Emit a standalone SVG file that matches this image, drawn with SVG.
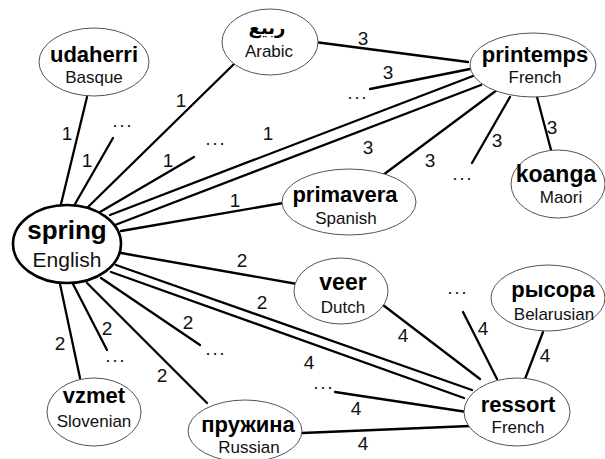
<svg xmlns="http://www.w3.org/2000/svg" width="605" height="459" viewBox="0 0 605 459">
  <style>
    .edge { stroke: #000; stroke-width: 2.3; stroke-linecap: round; fill: none; }
    .node { fill: #fff; stroke: #555; stroke-width: 1; }
    .hub { fill: #fff; stroke: #000; stroke-width: 2.6; }
    .word { font-family: "Liberation Sans", Arial, "DejaVu Sans", sans-serif; font-weight: bold; font-size: 22px; text-anchor: middle; fill: #000; }
    .lang { font-family: "Liberation Sans", Arial, sans-serif; font-size: 17px; text-anchor: middle; fill: #111; }
    .w { font-family: "Liberation Sans", Arial, sans-serif; font-size: 19px; text-anchor: middle; fill: #111; }
    .dots { font-family: "Liberation Sans", Arial, sans-serif; font-size: 18px; text-anchor: middle; fill: #111; letter-spacing: 2px; }
  </style>
  <rect width="605" height="459" fill="#fff"/>

  <g id="connectors">
    <!-- spring: weight 1 -->
    <line class="edge" x1="61" y1="204" x2="87" y2="97"/>
    <line class="edge" x1="75" y1="204" x2="113" y2="138"/>
    <line class="edge" x1="88" y1="207" x2="235" y2="63"/>
    <line class="edge" x1="100" y1="212" x2="194" y2="157"/>
    <line class="edge" x1="110" y1="215" x2="473" y2="76"/>
    <line class="edge" x1="115" y1="225" x2="481" y2="85"/>
    <line class="edge" x1="121" y1="231" x2="283" y2="203"/>
    <!-- spring: weight 2 -->
    <line class="edge" x1="121" y1="253" x2="297" y2="284"/>
    <line class="edge" x1="116" y1="265" x2="472" y2="390"/>
    <line class="edge" x1="111" y1="272" x2="464" y2="398"/>
    <line class="edge" x1="101" y1="278" x2="200" y2="345"/>
    <line class="edge" x1="87" y1="283" x2="207" y2="403"/>
    <line class="edge" x1="73" y1="284" x2="107" y2="350"/>
    <line class="edge" x1="60" y1="284" x2="80" y2="378"/>
    <!-- printemps: weight 3 -->
    <line class="edge" x1="315" y1="42" x2="468" y2="62"/>
    <line class="edge" x1="470" y1="69" x2="370" y2="89"/>
    <line class="edge" x1="497" y1="90" x2="383" y2="175"/>
    <line class="edge" x1="510" y1="97" x2="472" y2="163"/>
    <line class="edge" x1="537" y1="97" x2="551" y2="150"/>
    <!-- ressort: weight 4 -->
    <line class="edge" x1="383" y1="305" x2="480" y2="379"/>
    <line class="edge" x1="463" y1="312" x2="497" y2="379"/>
    <line class="edge" x1="543" y1="332" x2="525" y2="379"/>
    <line class="edge" x1="335" y1="392" x2="467" y2="412"/>
    <line class="edge" x1="302" y1="433" x2="470" y2="426"/>
  </g>

  <g id="weights">
    <text class="w" x="67" y="140">1</text>
    <text class="w" x="87" y="167">1</text>
    <text class="w" x="181" y="107">1</text>
    <text class="w" x="168" y="167">1</text>
    <text class="w" x="268" y="140">1</text>
    <text class="w" x="235" y="207">1</text>
    <text class="w" x="363" y="45">3</text>
    <text class="w" x="388" y="79">3</text>
    <text class="w" x="368" y="154">3</text>
    <text class="w" x="430" y="167">3</text>
    <text class="w" x="497" y="147">3</text>
    <text class="w" x="552" y="134">3</text>
    <text class="w" x="242" y="267">2</text>
    <text class="w" x="262" y="309">2</text>
    <text class="w" x="188" y="329">2</text>
    <text class="w" x="162" y="382">2</text>
    <text class="w" x="107" y="335">2</text>
    <text class="w" x="60" y="350">2</text>
    <text class="w" x="309" y="369">4</text>
    <text class="w" x="403" y="342">4</text>
    <text class="w" x="483" y="335">4</text>
    <text class="w" x="545" y="362">4</text>
    <text class="w" x="356" y="415">4</text>
    <text class="w" x="363" y="450">4</text>
    <text class="dots" x="123" y="127">...</text>
    <text class="dots" x="216" y="145">...</text>
    <text class="dots" x="358" y="99">...</text>
    <text class="dots" x="463" y="180">...</text>
    <text class="dots" x="216" y="355">...</text>
    <text class="dots" x="116" y="362">...</text>
    <text class="dots" x="458" y="294">...</text>
    <text class="dots" x="324" y="389">...</text>
  </g>

  <g id="spring">
    <ellipse class="hub" cx="67" cy="244" rx="54" ry="39"/>
    <text class="word" x="67" y="239" style="font-size:26px">spring</text>
    <text class="lang" x="67" y="267" style="font-size:21px">English</text>
  </g>
  <g id="udaherri">
    <ellipse class="node" cx="94" cy="62" rx="55" ry="34"/>
    <text class="word" x="94" y="62">udaherri</text>
    <text class="lang" x="94" y="83">Basque</text>
  </g>
  <g id="rabie">
    <ellipse class="node" cx="270" cy="42" rx="48" ry="33"/>
    <text class="word" x="267" y="34" style="font-size:18px">ربيع</text>
    <text class="lang" x="269" y="57">Arabic</text>
  </g>
  <g id="printemps">
    <ellipse class="node" cx="533" cy="65" rx="63" ry="32"/>
    <text class="word" x="535" y="62">printemps</text>
    <text class="lang" x="535" y="83">French</text>
  </g>
  <g id="koanga">
    <ellipse class="node" cx="558" cy="184" rx="47" ry="34"/>
    <text class="word" x="556" y="182" style="font-size:23px">koanga</text>
    <text class="lang" x="561" y="203">Maori</text>
  </g>
  <g id="primavera">
    <ellipse class="node" cx="349" cy="202" rx="67" ry="33"/>
    <text class="word" x="345" y="202">primavera</text>
    <text class="lang" x="346" y="224">Spanish</text>
  </g>
  <g id="veer">
    <ellipse class="node" cx="341" cy="291" rx="47" ry="33"/>
    <text class="word" x="343" y="290" style="font-size:23px">veer</text>
    <text class="lang" x="343" y="313">Dutch</text>
  </g>
  <g id="rysora">
    <ellipse class="node" cx="548" cy="298" rx="57" ry="33"/>
    <text class="word" x="553" y="297">рысора</text>
    <text class="lang" x="554" y="320">Belarusian</text>
  </g>
  <g id="ressort">
    <ellipse class="node" cx="517" cy="412" rx="53" ry="34"/>
    <text class="word" x="518" y="412">ressort</text>
    <text class="lang" x="518" y="433">French</text>
  </g>
  <g id="pruzhina">
    <ellipse class="node" cx="245" cy="431" rx="57" ry="31"/>
    <text class="word" x="248" y="432">пружина</text>
    <text class="lang" x="249" y="453">Russian</text>
  </g>
  <g id="vzmet">
    <ellipse class="node" cx="94" cy="412" rx="47" ry="34"/>
    <text class="word" x="94" y="403">vzmet</text>
    <text class="lang" x="94" y="427">Slovenian</text>
  </g>
</svg>
